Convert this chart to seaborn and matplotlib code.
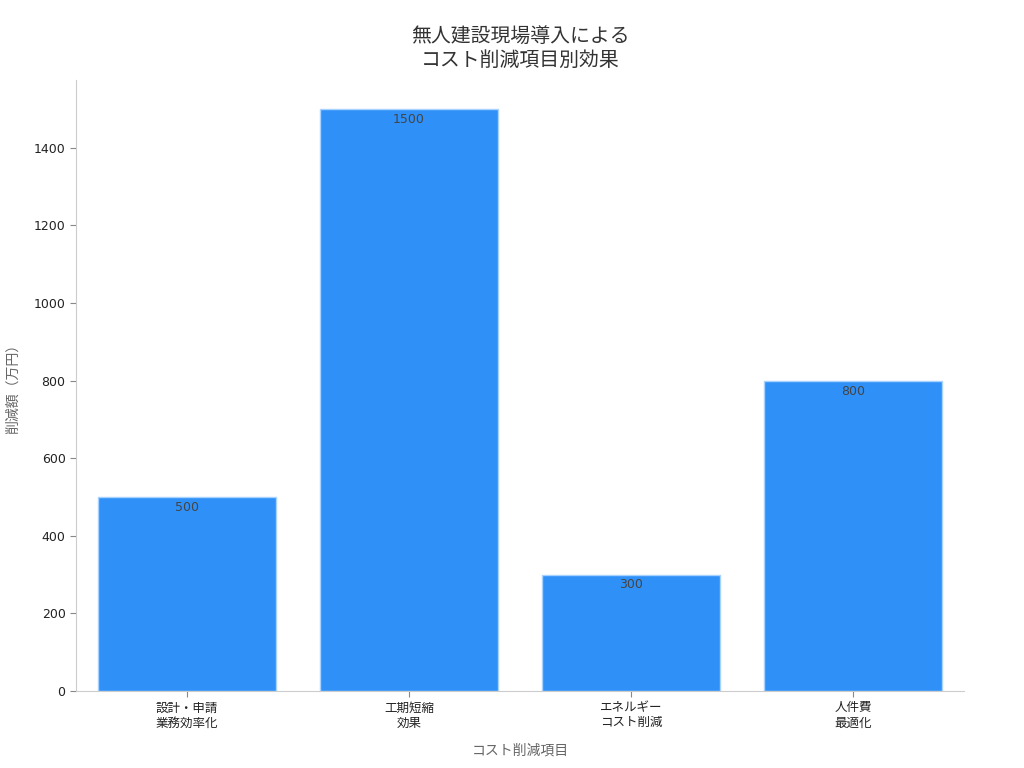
import matplotlib
matplotlib.use("Agg")
import matplotlib.pyplot as plt
import seaborn as sns
import pandas as pd

# data
categories = ["設計・申請\n業務効率化", "工期短縮\n効果", "エネルギー\nコスト削減", "人件費\n最適化"]
savings = [500, 1500, 300, 800]

df = pd.DataFrame({"item": categories, "amount": savings})

sns.set_theme(style="white")
plt.rcParams["font.family"] = ["DejaVu Sans", "Noto Sans CJK JP"]

fig = plt.figure(figsize=(10.24, 7.68), dpi=100)
ax = fig.add_axes([0.0742, 0.1003, 0.8672, 0.7955])

sns.barplot(
    data=df, x="item", y="amount", ax=ax,
    color="#2F91F8", saturation=1, width=0.8,
    edgecolor="#A8D2FF", linewidth=1,
)

for i, v in enumerate(savings):
    ax.text(i, v - 10, str(v), ha="center", va="top", fontsize=9, color="#444444")

ax.set_xlim(-0.5, 3.5)
ax.set_ylim(0, 1575)
ax.set_yticks([0, 200, 400, 600, 800, 1000, 1200, 1400])

ax.set_title("無人建設現場導入による\nコスト削減項目別効果", fontsize=14.3, color="#333333", pad=10, linespacing=1.35)
ax.set_xlabel("コスト削減項目", fontsize=10, color="#666666", labelpad=10)
ax.set_ylabel("削減額（万円）", fontsize=10, color="#666666", labelpad=10)

sns.despine(ax=ax)
for s in ["left", "bottom"]:
    ax.spines[s].set_color("#CCCCCC")
    ax.spines[s].set_linewidth(0.8)
ax.tick_params(axis="both", length=4, width=0.8, color="#888888", labelsize=9, labelcolor="#222222", bottom=True, left=True)

fig.savefig("out.png", dpi=100)
